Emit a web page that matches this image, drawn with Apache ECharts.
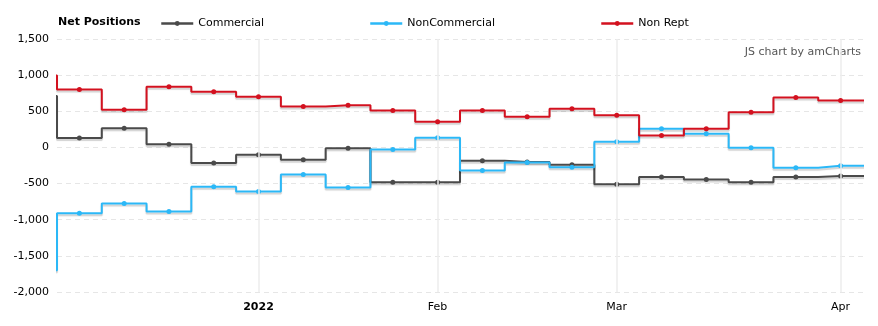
<!DOCTYPE html>
<html>
<head>
<meta charset="utf-8">
<script src="https://cdn.jsdelivr.net/npm/echarts@6/dist/echarts.min.js"></script>
<style>
html,body{margin:0;padding:0;background:#fff;}
#chart{width:878px;height:326px;}
</style>
</head>
<body>
<div id="chart"></div>
<script>
// Weekly report dates (Tuesdays)
const dates = ['2021-12-07','2021-12-14','2021-12-21','2021-12-28','2022-01-04','2022-01-11','2022-01-18','2022-01-25','2022-02-01','2022-02-08','2022-02-15','2022-02-22','2022-03-01','2022-03-08','2022-03-15','2022-03-22','2022-03-29','2022-04-05'];
// Net positions
const commercial    = [130, 265, 45, -215, -100, -170, -10, -480, -480, -185, -200, -240, -510, -410, -445, -480, -410, -395];
const nonCommercial = [-910, -775, -885, -545, -610, -375, -555, -30, 135, -320, -210, -275, 80, 260, 190, -5, -280, -255];
const nonRept       = [800, 520, 840, 770, 700, 565, 585, 510, 355, 510, 425, 535, 445, 165, 260, 485, 690, 650];
// Values of the previous report (2021-11-30), just left of the visible range
const prevCommercial = 710;
const prevNonCommercial = -1700;
const prevNonRept = 995;
// Month tick labels: index into dates
const monthTickIdx = [4, 8, 12, 17];
const monthTickLabels = ['2022', 'Feb', 'Mar', 'Apr'];
const seriesNames = ['Commercial', 'NonCommercial', 'Non Rept'];
const yTicks = [-2000, -1500, -1000, -500, 0, 500, 1000, 1500];

const FONT = 'DejaVu Sans';
const colors = ['#4a4a4a', '#2bb8f7', '#d3111f'];

function build(prev, vals) {
  const d = [{value: [-1, prev], symbol: 'none'}];
  vals.forEach((v, i) => d.push({value: [i, v]}));
  // amCharts draws the last step across its whole cell: extend it to the plot edge
  d.push({value: [vals.length, vals[vals.length - 1]], symbol: 'none'});
  return d;
}

const seriesData = [
  build(prevCommercial, commercial),
  build(prevNonCommercial, nonCommercial),
  build(prevNonRept, nonRept)
];

const chart = echarts.init(document.getElementById('chart'), null, {renderer: 'canvas'});

const series = seriesNames.map((name, k) => ({
  name: name,
  type: 'line',
  step: 'middle',
  data: seriesData[k],
  clip: true,
  z: 3 + k,
  symbol: 'circle',
  symbolSize: 5,
  showAllSymbol: true,
  itemStyle: {color: colors[k]},
  lineStyle: {color: colors[k], width: 2, shadowColor: 'rgba(0,0,0,0.18)', shadowBlur: 1, shadowOffsetY: 2},
  emphasis: {disabled: true}
}));

// vertical month grid lines
series.push({
  type: 'line',
  data: [],
  silent: true,
  z: 1,
  markLine: {
    silent: true,
    symbol: 'none',
    label: {show: false},
    lineStyle: {color: '#ececec', width: 1.5, type: 'solid'},
    data: monthTickIdx.map(i => ({xAxis: i}))
  }
});

const option = {
  animation: false,
  textStyle: {fontFamily: FONT},
  title: {
    text: 'Net Positions',
    left: 58,
    top: 17,
    padding: 0,
    textStyle: {fontFamily: FONT, fontSize: 11, fontWeight: 'bold', color: '#000'}
  },
  legend: seriesNames.map((n, k) => ({
    data: [n],
    left: [160, 369, 600][k],
    top: 18,
    padding: 0,
    itemWidth: 32,
    itemHeight: 6,
    selectedMode: false,
    lineStyle: {width: 2.5, shadowBlur: 0, shadowOffsetY: 0},
    textStyle: {fontFamily: FONT, fontSize: 11, color: '#000'}
  })),
  graphic: [{
    type: 'text',
    right: 17,
    top: 47,
    style: {text: 'JS chart by amCharts', fontFamily: FONT, fontSize: 11, fill: '#555'}
  }],
  grid: {left: 57, right: 15, top: 39, bottom: 34},
  xAxis: {
    type: 'value',
    min: -0.5,
    max: dates.length - 0.5,
    axisLine: {show: false},
    axisTick: {show: false},
    splitLine: {show: false},
    axisLabel: {
      customValues: monthTickIdx,
      margin: 10,
      fontFamily: FONT,
      fontSize: 11,
      color: '#000',
      formatter: function (v) {
        const j = monthTickIdx.indexOf(Math.round(v));
        if (j < 0) return '';
        return j === 0 ? '{b|' + monthTickLabels[j] + '}' : monthTickLabels[j];
      },
      rich: {b: {fontWeight: 'bold', fontFamily: FONT, fontSize: 11, color: '#000'}}
    }
  },
  yAxis: {
    type: 'value',
    min: yTicks[0],
    max: yTicks[yTicks.length - 1],
    interval: 500,
    axisLine: {show: false},
    axisTick: {show: false},
    axisLabel: {
      margin: 8,
      fontFamily: FONT,
      fontSize: 11,
      color: '#000',
      formatter: v => v.toLocaleString('en-US')
    },
    splitLine: {lineStyle: {color: '#e6e6e6', type: [5, 4], width: 1}}
  },
  series: series
};

chart.setOption(option);
</script>
</body>
</html>
